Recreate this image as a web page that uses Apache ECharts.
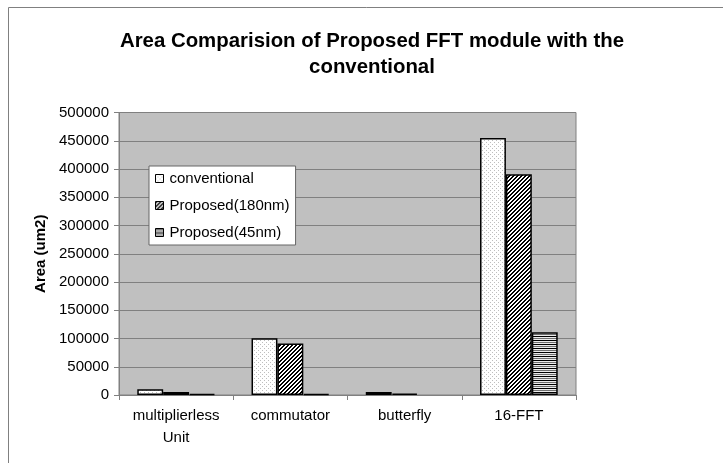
<!DOCTYPE html>
<html>
<head>
<meta charset="utf-8">
<script src="https://cdn.jsdelivr.net/npm/echarts@6/dist/echarts.min.js"></script>
<style>
html,body{margin:0;padding:0;background:#fff;}
#chart{width:723px;height:463px;}
</style>
</head>
<body>
<div id="chart"></div>
<script>
var categories = ['multiplierless\nUnit', 'commutator', 'butterfly', '16-FFT'];
var conventional = [10000, 100500, 5300, 455000];
var proposed180 = [5300, 91000, 2300, 390500];
var proposed45 = [1800, 1800, null, 111000];
var seriesNames = ['conventional', 'Proposed(180nm)', 'Proposed(45nm)'];
var yTicks = [0, 50000, 100000, 150000, 200000, 250000, 300000, 350000, 400000, 450000, 500000];

function makePattern(w, h, fn) {
  var c = document.createElement('canvas');
  c.width = w; c.height = h;
  var ctx = c.getContext('2d');
  var img = ctx.createImageData(w, h);
  for (var y = 0; y < h; y++) {
    for (var x = 0; x < w; x++) {
      var v = fn(x, y);
      var i = (y * w + x) * 4;
      img.data[i] = v; img.data[i+1] = v; img.data[i+2] = v; img.data[i+3] = 255;
    }
  }
  ctx.putImageData(img, 0, 0);
  return c;
}
var patDots = makePattern(4, 4, function (x, y) {
  return ((x === 0 && y === 0) || (x === 2 && y === 2)) ? 190 : 255;
});
var patDiag = makePattern(4, 4, function (x, y) {
  var k = (x + y) % 4;
  return (k === 0 || k === 1) ? 0 : 255;
});
var patHoriz = makePattern(4, 4, function (x, y) {
  return y === 0 ? 0 : (y === 2 ? 110 : 235);
});

var patterns = [patDots, patDiag, patHoriz];
var datas = [conventional, proposed180, proposed45];
var FONT = '"Liberation Sans", Arial, sans-serif';

var chart = echarts.init(document.getElementById('chart'), null, {renderer: 'canvas'});
var series = seriesNames.map(function (n, i) {
  return {
    name: n,
    type: 'bar',
    data: datas[i],
    barGap: '0%',
    barCategoryGap: '32%',
    itemStyle: {
      color: {image: patterns[i], repeat: 'repeat'},
      borderColor: '#000',
      borderWidth: 1.5
    },
    emphasis: {disabled: true}
  };
});

chart.setOption({
  animation: false,
  backgroundColor: '#fff',
  textStyle: {fontFamily: FONT},
  title: {
    text: 'Area Comparision of Proposed FFT module with the\nconventional',
    left: 367,
    textAlign: 'center',
    top: 23,
    textStyle: {
      fontFamily: FONT,
      fontSize: 20.4,
      fontWeight: 'bold',
      color: '#000',
      lineHeight: 26
    }
  },
  graphic: [{
    type: 'rect',
    shape: {x: 8.5, y: 7.5, width: 800, height: 600},
    style: {fill: 'none', stroke: '#808080', lineWidth: 1},
    silent: true
  }],
  legend: {
    orient: 'vertical',
    left: 149,
    top: 166,
    backgroundColor: '#fff',
    borderColor: '#666',
    borderWidth: 1,
    padding: [5, 6, 5, 6],
    itemGap: 12,
    itemWidth: 8,
    itemHeight: 8,
    icon: 'rect',
    itemStyle: {borderColor: '#000', borderWidth: 1},
    textStyle: {fontSize: 15, color: '#000', padding: [0, 0, 0, 1], fontFamily: FONT, lineHeight: 15},
    data: seriesNames
  },
  grid: {
    left: 119,
    right: 147,
    top: 112.5,
    bottom: 68,
    show: true,
    backgroundColor: '#c0c0c0',
    borderColor: '#808080',
    borderWidth: 1
  },
  xAxis: {
    type: 'category',
    data: categories,
    axisLine: {lineStyle: {color: '#808080', width: 1}},
    axisTick: {show: true, length: 5, alignWithLabel: false, lineStyle: {color: '#808080'}},
    axisLabel: {
      fontSize: 15, color: '#000', margin: 10, lineHeight: 22,
      fontFamily: FONT
    }
  },
  yAxis: {
    type: 'value',
    min: 0,
    max: 500000,
    interval: 50000,
    name: 'Area (um2)',
    nameLocation: 'middle',
    nameGap: 71,
    nameTextStyle: {fontSize: 15, fontWeight: 'bold', color: '#000', fontFamily: FONT},
    axisLine: {show: true, lineStyle: {color: '#808080', width: 1}},
    axisTick: {show: true, length: 5, lineStyle: {color: '#808080'}},
    axisLabel: {
      fontSize: 15, color: '#000', margin: 10,
      fontFamily: FONT,
      formatter: function (v) { return yTicks.indexOf(v) >= 0 ? String(v) : ''; }
    },
    splitLine: {show: true, lineStyle: {color: '#808080', width: 1}}
  },
  series: series
});
</script>
</body>
</html>
